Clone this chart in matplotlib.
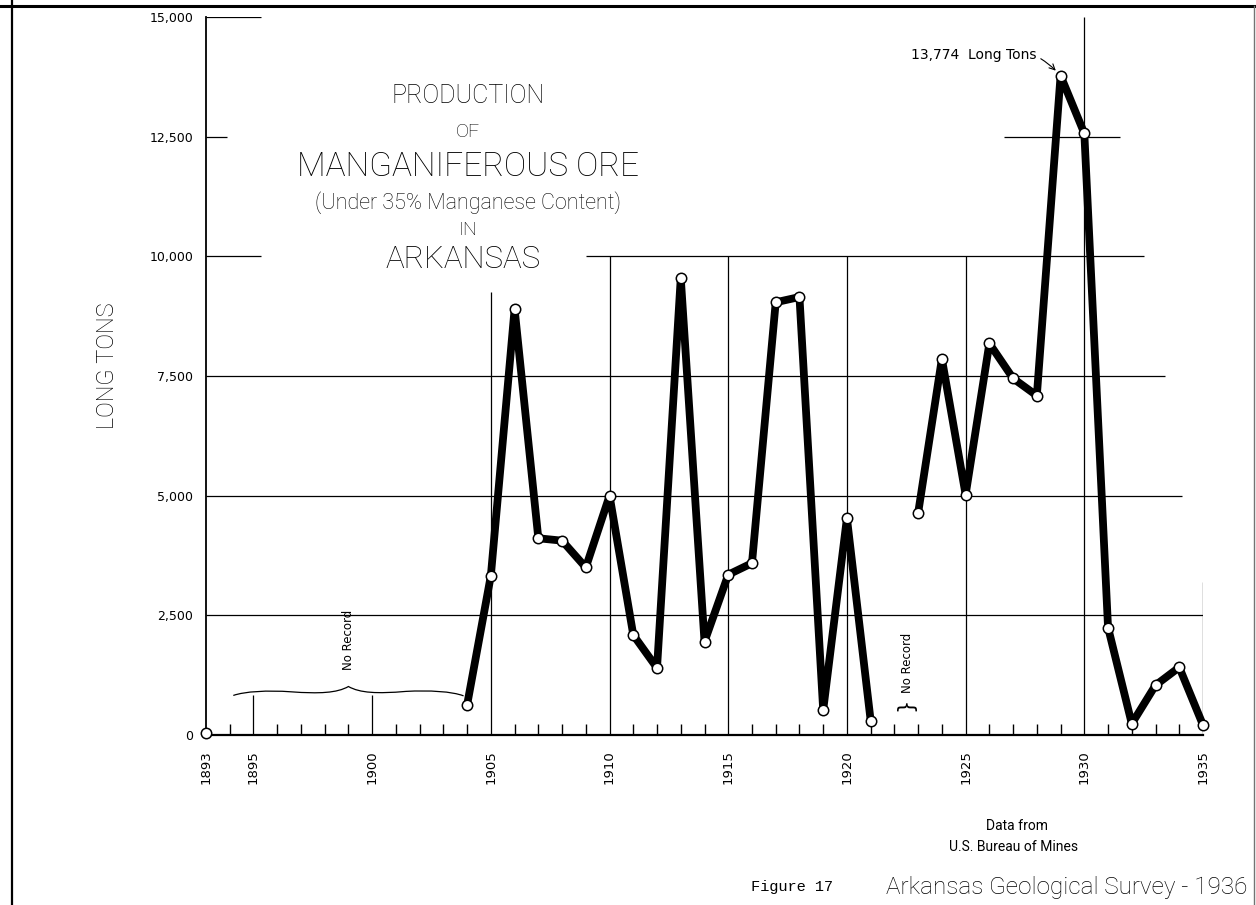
import numpy as np
import pandas as pd
import matplotlib
matplotlib.use("Agg")
import matplotlib.pyplot as plt
from matplotlib.path import Path
from matplotlib.patches import PathPatch
from matplotlib.lines import Line2D

# ---- data (long tons of manganiferous ore, Arkansas) ----
years = [1893,
         1904, 1905, 1906, 1907, 1908, 1909, 1910, 1911, 1912, 1913, 1914,
         1915, 1916, 1917, 1918, 1919, 1920, 1921,
         1923, 1924, 1925, 1926, 1927, 1928, 1929, 1930, 1931, 1932, 1933,
         1934, 1935]
tons = [40,
        630, 3330, 8900, 4110, 4060, 3500, 5000, 2090, 1400, 9550, 1950,
        3350, 3590, 9040, 9150, 520, 4530, 300,
        4640, 7860, 5020, 8180, 7450, 7090, 13774, 12570, 2245, 236, 1040,
        1415, 208]
x_tick_years = [1893, 1895, 1900, 1905, 1910, 1915, 1920, 1925, 1930, 1935]
y_ticks = [0, 2500, 5000, 7500, 10000, 12500, 15000]
y_tick_labels = ["0", "2,500", "5,000", "7,500", "10,000", "12,500", "15,000"]
peak_label = "13,774  Long Tons"

W, H = 1256, 905
fig = plt.figure(figsize=(W / 100, H / 100), dpi=100)
fig.patch.set_facecolor("white")

def fx(px):
    return px / W

def fy(py):
    return 1 - py / H

ax = fig.add_axes([fx(206), fy(735), (1203 - 206) / W, (735 - 17) / H])
ax.set_xlim(1893, 1935)
ax.set_ylim(0, 15000)
ax.set_facecolor("none")
for s in ["top", "right"]:
    ax.spines[s].set_visible(False)
ax.spines["left"].set_linewidth(1.3)
ax.spines["bottom"].set_linewidth(1.6)

# ticks
ax.set_xticks(x_tick_years)
ax.set_xticklabels([str(y) for y in x_tick_years], rotation=90,
                   fontsize=9.5, family="DejaVu Sans")
ax.set_xticks(list(range(1893, 1936)), minor=True)
ax.tick_params(axis="x", which="major", length=0, pad=11)
ax.tick_params(axis="x", which="minor", direction="in", length=8, width=1)
ax.set_yticks(y_ticks)
ax.set_yticklabels(y_tick_labels, fontsize=9, family="DejaVu Sans")
ax.tick_params(axis="y", length=0, pad=9)

tfam = ["Roboto", "DejaVu Sans"]
ax.set_ylabel("LONG TONS", fontsize=17, family=tfam, fontweight="light",
              color="black")
ax.yaxis.set_label_coords(-0.087, 0.515)

# partial grid lines (hand-drafted look)
gl = dict(color="black", lw=0.9, zorder=1)
ax.hlines(15000, 1893, 1895.3, **gl)
ax.hlines(12500, 1893, 1893.9, **gl)
ax.hlines(12500, 1926.6, 1931.5, **gl)
ax.hlines(10000, 1893, 1895.3, **gl)
ax.hlines(10000, 1909.0, 1932.5, **gl)
ax.hlines(7500, 1893, 1933.4, **gl)
ax.hlines(5000, 1893, 1934.1, **gl)
ax.hlines(2500, 1893, 1935.1, **gl)
ax.vlines([1895, 1900], 0, 830, **gl)
ax.vlines(1905, 0, 9250, **gl)
ax.vlines([1910, 1915, 1920, 1925], 0, 10000, **gl)
ax.vlines(1930, 0, 15000, **gl)
ax.vlines(1935, 0, 3200, **gl)

# data line (breaks where there is no record)
series = pd.Series(tons, index=years).reindex(range(1893, 1936))
ax.plot(series.index, series.values, color="black", lw=5.6,
        solid_joinstyle="round", solid_capstyle="round", zorder=3, clip_on=False)
ax.plot(years, tons, linestyle="none", marker="o", ms=7.5, mfc="white",
        mec="black", mew=1.1, zorder=4, clip_on=False)

# peak annotation
ax.annotate(peak_label, xy=(1929, 13774), xytext=(1928.0, 14200),
            ha="right", va="center", fontsize=10, family="DejaVu Sans",
            arrowprops=dict(arrowstyle="->", lw=0.8, color="black",
                            connectionstyle="arc3,rad=-0.35",
                            shrinkA=1, shrinkB=5))

# "No Record" brace (1894-1904)
def brace(ax, x0, x1, y, h):
    xm = (x0 + x1) / 2
    q = (x1 - x0) / 4
    verts = [(x0, y - h * 0.2),
             (x0 + q * 0.2, y + h * 0.3), (x0 + q * 0.6, y + h * 0.45), (x0 + q, y + h * 0.25),
             (x0 + q * 1.5, y), (xm - q * 0.2, y + h * 0.1), (xm, y + h * 0.9),
             (xm + q * 0.2, y + h * 0.1), (x1 - q * 1.5, y), (x1 - q, y + h * 0.3),
             (x1 - q * 0.6, y + h * 0.45), (x1 - q * 0.2, y + h * 0.3), (x1, y - h * 0.25)]
    codes = [Path.MOVETO] + [Path.CURVE4] * 12
    ax.add_patch(PathPatch(Path(verts, codes), fill=False, lw=0.9,
                           edgecolor="black", zorder=2))

brace(ax, 1894.15, 1903.85, 860, 170)
ax.text(1899.0, 1360, "No Record", rotation=90, ha="center", va="bottom",
        fontsize=8.5, family="DejaVu Sans")
ax.text(1922.55, 880, "No Record", rotation=90, ha="center", va="bottom",
        fontsize=8.5, family="DejaVu Sans")
ax.text(1922.45, 640, "}", rotation=90, ha="center", va="center",
        fontsize=15, family="DejaVu Sans")

# title block
cx = fx(468)
fig.text(cx, fy(96), "PRODUCTION", ha="center", va="center", fontsize=18,
         family=tfam, fontweight="light")
fig.text(cx, fy(132), "OF", ha="center", va="center", fontsize=14,
         family=tfam, fontweight="light")
fig.text(cx, fy(167), "MANGANIFEROUS ORE", ha="center", va="center", fontsize=24,
         family=tfam, fontweight="light")
fig.text(cx, fy(203), "(Under 35% Manganese Content)", ha="center", va="center",
         fontsize=15.5, family=tfam, fontweight="light")
fig.text(cx, fy(230), "IN", ha="center", va="center", fontsize=14,
         family=tfam, fontweight="light")
fig.text(fx(463), fy(260), "ARKANSAS", ha="center", va="center", fontsize=22.5,
         family=tfam, fontweight="light")

# footer
fig.text(fx(1017), fy(826), "Data from", ha="center", va="center", fontsize=10,
         family=tfam)
fig.text(fx(1014), fy(847), "U.S. Bureau of Mines", ha="center", va="center",
         fontsize=10, family=tfam)
fig.text(fx(792), fy(887), "Figure 17", ha="center", va="center", fontsize=11,
         family=["Liberation Mono", "DejaVu Sans Mono"])
fig.text(fx(1067), fy(887), "Arkansas Geological Survey - 1936", ha="center",
         va="center", fontsize=17.5, family=tfam, fontweight="light")

# sheet border
fig.add_artist(Line2D([fx(12), fx(12)], [0, 1], color="black", lw=1.6))
fig.add_artist(Line2D([0, 1], [fy(6), fy(6)], color="black", lw=2.2))
fig.add_artist(Line2D([fx(1254), fx(1254)], [0, fy(6)], color="0.45", lw=1.0))

fig.savefig("out.png", dpi=100, facecolor="white")
